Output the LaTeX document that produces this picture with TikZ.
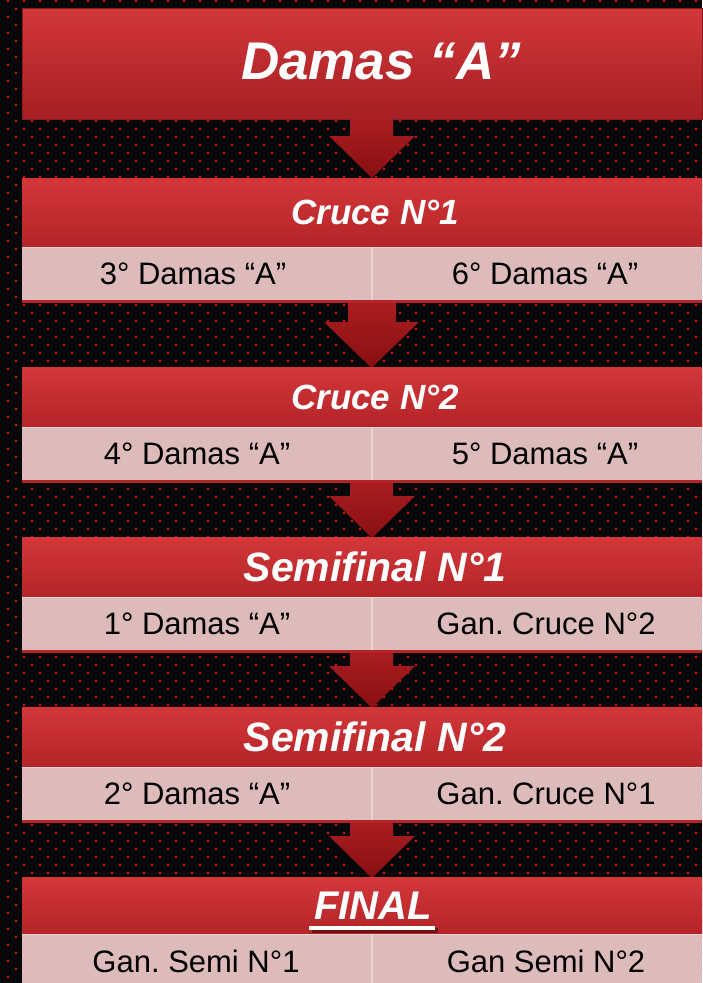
\documentclass[tikz,border=0pt]{standalone}
\usepackage{fontspec}
\setmainfont{Liberation Sans}
\frenchspacing
\definecolor{bg}{HTML}{050709}
\definecolor{dotred}{HTML}{C8161C}
\definecolor{redtop}{HTML}{D3373A}
\definecolor{redbot}{HTML}{B42428}
\definecolor{titlebot}{HTML}{A51F23}
\definecolor{boxedge}{HTML}{8E1A1D}
\definecolor{pinkcell}{HTML}{DEBBBB}
\definecolor{pinkedge}{HTML}{ECD4D4}
\definecolor{arrtop}{HTML}{AB1E21}
\definecolor{arrbot}{HTML}{880F12}
\definecolor{shadowred}{HTML}{6A1214}
\begin{document}
\begin{tikzpicture}[x=1pt,y=-1pt,
  hdrtxt/.style={text=white, inner sep=0pt},
  celltxt/.style={text=black, inner sep=0pt, font=\fontsize{31}{36}\selectfont},
  hdrfill/.style={top color=redtop, bottom color=redbot},
  cellfill/.style={fill=pinkcell},
  edgeline/.style={draw=pinkedge, line width=1.2pt},
  arrowfill/.style={top color=arrtop, bottom color=arrbot}]
\useasboundingbox (0,0) rectangle (702,983);
\fill[bg] (0,0) rectangle (702,983);
\fill[dotred] foreach \j in {0,...,61}{ foreach \i in {0,...,43}{
  (6.8+16*\i,16*\j-0.2) rectangle ++(2.4,2.4) (14.8+16*\i,8+16*\j-0.2) rectangle ++(2.4,2.4) } };

% ---------- title box
\shade[top color=redtop, bottom color=titlebot] (22,8) rectangle (702,119);
\draw[boxedge, line width=0.8pt] (22,8) rectangle (702,119);
\node[hdrtxt, font=\fontsize{53}{60}\selectfont\bfseries\itshape] (title) at (381,62) {Damas “A”};

% ---------- arrows
\shade[arrowfill] (350,118) -- (393,118) -- (393,136) -- (415,136) -- (372,178) -- (329,136) -- (350,136) -- cycle;
\shade[arrowfill] (348,300) -- (396,300) -- (396,322) -- (419,322) -- (371.5,368) -- (324,322) -- (348,322) -- cycle;
\shade[arrowfill] (350,480) -- (393,480) -- (393,496) -- (415,496) -- (372,538) -- (329,496) -- (350,496) -- cycle;
\shade[arrowfill] (350,650) -- (393,650) -- (393,666) -- (415,666) -- (372,708) -- (329,666) -- (350,666) -- cycle;
\shade[arrowfill] (350,820) -- (393,820) -- (393,836) -- (415,836) -- (372,878) -- (329,836) -- (350,836) -- cycle;

% ---------- Cruce N°1
\shade[hdrfill] (22,178) rectangle (702,247);
\fill[redbot] (22,300) rectangle (702,302.5);
\fill[cellfill] (22,247) rectangle (702,300);
\draw[edgeline] (22,247.6) -- (702,247.6);
\draw[edgeline] (372,247) -- (372,300);
\node[hdrtxt, font=\fontsize{35}{40}\selectfont\bfseries\itshape] (c1) at (375,212) {Cruce N°1};
\node[celltxt] (c1l) at (193,273.5) {3° Damas “A”};
\node[celltxt] (c1r) at (545,273.5) {6° Damas “A”};

% ---------- Cruce N°2
\shade[hdrfill] (22,367) rectangle (702,427);
\fill[redbot] (22,480) rectangle (702,482.5);
\fill[cellfill] (22,427) rectangle (702,480);
\draw[edgeline] (22,427.6) -- (702,427.6);
\draw[edgeline] (372,427) -- (372,480);
\node[hdrtxt, font=\fontsize{35}{40}\selectfont\bfseries\itshape] (c2) at (375,397) {Cruce N°2};
\node[celltxt] (c2l) at (197,453.5) {4° Damas “A”};
\node[celltxt] (c2r) at (545,453.5) {5° Damas “A”};

% ---------- Semifinal N°1
\shade[hdrfill] (22,537) rectangle (702,597);
\fill[redbot] (22,650) rectangle (702,652.5);
\fill[cellfill] (22,597) rectangle (702,650);
\draw[edgeline] (22,597.6) -- (702,597.6);
\draw[edgeline] (372,597) -- (372,650);
\node[hdrtxt, font=\fontsize{41}{46}\selectfont\bfseries\itshape] (s1) at (375,567) {Semifinal N°1};
\node[celltxt] (s1l) at (197,623.5) {1° Damas “A”};
\node[celltxt] (s1r) at (546,623.5) {Gan. Cruce N°2};

% ---------- Semifinal N°2
\shade[hdrfill] (22,707) rectangle (702,767);
\fill[redbot] (22,820) rectangle (702,822.5);
\fill[cellfill] (22,767) rectangle (702,820);
\draw[edgeline] (22,767.6) -- (702,767.6);
\draw[edgeline] (372,767) -- (372,820);
\node[hdrtxt, font=\fontsize{41}{46}\selectfont\bfseries\itshape] (s2) at (375,737) {Semifinal N°2};
\node[celltxt] (s2l) at (197,793.5) {2° Damas “A”};
\node[celltxt] (s2r) at (546,793.5) {Gan. Cruce N°1};

% ---------- FINAL
\shade[hdrfill] (22,877) rectangle (702,934);
\fill[cellfill] (22,934) rectangle (702,983);
\draw[edgeline] (22,934.6) -- (702,934.6);
\draw[edgeline] (372,934) -- (372,983);
\fill[shadowred] (311.5,928) rectangle (437.5,932.5);
\fill[white] (309,925.5) rectangle (435,930);
\node[hdrtxt, font=\fontsize{40}{46}\selectfont\bfseries\itshape] (fin) at (373,906) {FINAL};
\node[celltxt] (fl) at (196,961) {Gan. Semi N°1};
\node[celltxt] (fr) at (546,961) {Gan Semi N°2};
\end{tikzpicture}
\end{document}
